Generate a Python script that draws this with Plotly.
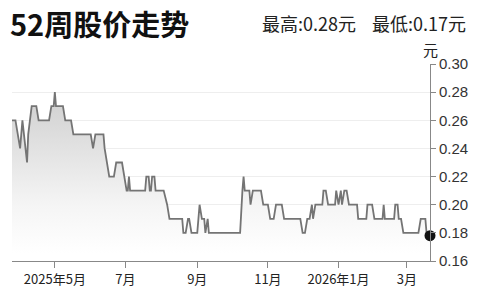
import plotly.graph_objects as go

dates = [
    "2025-03-25", "2025-03-28", "2025-04-01", "2025-04-03", "2025-04-07", "2025-04-08",
    "2025-04-11", "2025-04-15", "2025-04-17", "2025-04-26", "2025-04-28", "2025-04-30",
    "2025-05-01", "2025-05-02", "2025-05-08", "2025-05-10", "2025-05-15", "2025-05-17",
    "2025-06-01", "2025-06-03", "2025-06-05", "2025-06-12", "2025-06-13", "2025-06-15",
    "2025-06-17", "2025-06-21", "2025-06-23", "2025-06-28", "2025-06-30", "2025-07-02",
    "2025-07-03", "2025-07-04", "2025-07-05", "2025-07-18", "2025-07-19", "2025-07-21",
    "2025-07-22", "2025-07-23", "2025-07-24", "2025-07-26", "2025-07-27", "2025-08-03",
    "2025-08-06", "2025-08-08", "2025-08-19", "2025-08-20", "2025-08-22", "2025-08-24",
    "2025-08-25", "2025-08-27", "2025-09-01", "2025-09-03", "2025-09-05", "2025-09-07",
    "2025-09-08", "2025-09-10", "2025-09-11", "2025-10-08", "2025-10-10", "2025-10-11",
    "2025-10-12", "2025-10-16", "2025-10-17", "2025-10-19", "2025-10-26", "2025-10-28",
    "2025-11-01", "2025-11-03", "2025-11-06", "2025-11-08", "2025-11-13", "2025-11-15",
    "2025-11-29", "2025-12-01", "2025-12-03", "2025-12-05", "2025-12-07", "2025-12-09",
    "2025-12-10", "2025-12-12", "2025-12-18", "2025-12-19", "2025-12-21", "2025-12-23",
    "2025-12-29", "2025-12-30", "2026-01-01", "2026-01-03", "2026-01-04", "2026-01-06",
    "2026-01-08", "2026-01-10", "2026-01-17", "2026-01-18", "2026-01-25", "2026-01-26",
    "2026-01-30", "2026-02-01", "2026-02-08", "2026-02-09", "2026-02-10", "2026-02-18",
    "2026-02-19", "2026-02-21", "2026-02-22", "2026-02-24", "2026-02-26", "2026-03-11",
    "2026-03-13", "2026-03-17", "2026-03-18", "2026-03-21",
]
prices = [
    0.26, 0.26, 0.24, 0.26, 0.23, 0.25,
    0.27, 0.27, 0.26, 0.26, 0.27, 0.27,
    0.28, 0.27, 0.27, 0.26, 0.26, 0.25,
    0.25, 0.24, 0.25, 0.25, 0.24, 0.23,
    0.22, 0.22, 0.23, 0.23, 0.22, 0.21,
    0.21, 0.22, 0.21, 0.21, 0.22, 0.22,
    0.21, 0.21, 0.22, 0.22, 0.21, 0.21,
    0.20, 0.19, 0.19, 0.18, 0.18, 0.19,
    0.19, 0.18, 0.18, 0.20, 0.19, 0.19,
    0.18, 0.19, 0.18, 0.18, 0.21, 0.22,
    0.21, 0.21, 0.20, 0.21, 0.21, 0.20,
    0.20, 0.19, 0.19, 0.20, 0.20, 0.19,
    0.19, 0.18, 0.18, 0.19, 0.19, 0.20,
    0.19, 0.20, 0.20, 0.21, 0.21, 0.20,
    0.20, 0.21, 0.20, 0.21, 0.20, 0.21,
    0.21, 0.20, 0.20, 0.19, 0.19, 0.20,
    0.20, 0.19, 0.19, 0.20, 0.19, 0.19,
    0.20, 0.20, 0.19, 0.19, 0.18, 0.18,
    0.19, 0.19, 0.18, 0.178,
]

tick_dates = ["2025-05-01", "2025-07-01", "2025-09-01", "2025-11-01", "2026-01-01", "2026-03-01"]
tick_labels = ["2025年5月", "7月", "9月", "11月", "2026年1月", "3月"]
y_ticks = [0.16, 0.18, 0.20, 0.22, 0.24, 0.26, 0.28, 0.30]

title = "52周股价走势"
stats = "最高:0.28元    最低:0.17元"
unit = "元"

cjk = "Noto Sans CJK SC, Liberation Sans, Arial, sans-serif"
num = "Liberation Sans Narrow, Liberation Sans, Arial, sans-serif"

L, R, T, B = 12, 48, 64, 32
W, H = 480, 300
pw = W - L - R
ph = H - T - B


def px(x):
    return (x - L) / pw


def py(y):
    return (H - B - y) / ph


fig = go.Figure()
fig.add_trace(go.Scatter(
    x=dates, y=prices, mode="lines",
    line=dict(color="#747474", width=1.8),
    fill="tozeroy",
    fillgradient=dict(type="vertical",
                      colorscale=[[0, "rgb(255,255,255)"], [0.3, "rgb(245,245,245)"],
                                  [1, "rgb(207,207,207)"]],
                      start=0.17, stop=0.28),
    hoverinfo="skip",
))
fig.add_trace(go.Scatter(
    x=[dates[-1]], y=[prices[-1]], mode="markers",
    marker=dict(color="#111111", size=11),
    cliponaxis=False, hoverinfo="skip",
))

fig.update_layout(
    width=W, height=H,
    margin=dict(l=L, r=R, t=T, b=B),
    paper_bgcolor="white", plot_bgcolor="white",
    showlegend=False,
    xaxis=dict(
        range=[dates[0], dates[-1]],
        tickmode="array", tickvals=tick_dates, ticktext=tick_labels,
        showgrid=False, showline=True, linecolor="#888888", linewidth=1,
        ticks="outside", ticklen=6, tickcolor="#888888",
        tickfont=dict(family=cjk, size=13, color="#222222"),
        zeroline=False,
    ),
    yaxis=dict(
        side="right", range=[0.16, 0.30],
        tickmode="array", tickvals=y_ticks,
        ticktext=[f"{v:.2f}" for v in y_ticks],
        showgrid=True, gridcolor="#eeeeee", gridwidth=1,
        showline=True, linecolor="#888888", linewidth=1,
        ticks="outside", ticklen=5, tickcolor="#888888",
        tickfont=dict(family=num, size=15, color="#333333"),
        zeroline=False,
    ),
    annotations=[
        dict(text="<b>" + title + "</b>", x=px(8), y=py(22), xref="paper", yref="paper",
             showarrow=False, xanchor="left", yanchor="middle",
             font=dict(family=cjk, size=29, color="#111111")),
        dict(text=stats, x=px(470), y=py(22), xref="paper", yref="paper",
             showarrow=False, xanchor="right", yanchor="middle",
             font=dict(family=cjk, size=18, color="#222222")),
        dict(text=unit, x=px(433), y=py(49), xref="paper", yref="paper",
             showarrow=False, xanchor="center", yanchor="middle",
             font=dict(family=cjk, size=15, color="#222222")),
    ],
)

fig.write_html("out.html")
